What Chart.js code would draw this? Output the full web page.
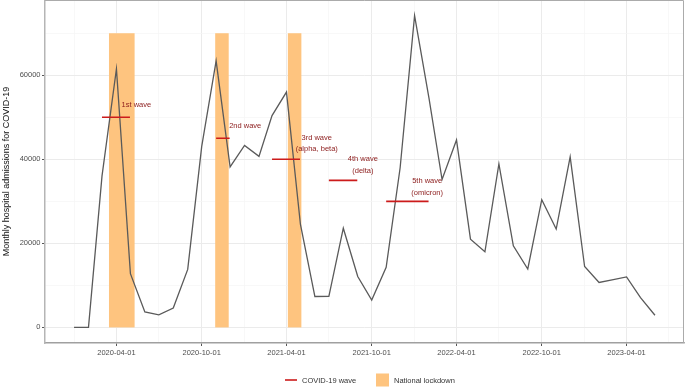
<!DOCTYPE html>
<html><head><meta charset="utf-8">
<script src="https://cdn.jsdelivr.net/npm/chart.js@4.4.1/dist/chart.umd.min.js"></script>
<style>html,body{margin:0;padding:0;background:#fff;}canvas{display:block;}</style>
</head><body>
<canvas id="c" width="685" height="387"></canvas>
<script>
// ---- data ----
const months = ['2020-01','2020-02','2020-03','2020-04','2020-05','2020-06','2020-07','2020-08','2020-09','2020-10','2020-11','2020-12',
'2021-01','2021-02','2021-03','2021-04','2021-05','2021-06','2021-07','2021-08','2021-09','2021-10','2021-11','2021-12',
'2022-01','2022-02','2022-03','2022-04','2022-05','2022-06','2022-07','2022-08','2022-09','2022-10','2022-11','2022-12',
'2023-01','2023-02','2023-03','2023-04','2023-05','2023-06'];
const admissions = [0,0,36000,61500,12800,3700,3000,4600,13800,43000,63400,38200,
43300,40700,50400,56000,24500,7350,7400,23600,12100,6500,14300,38000,
74200,54500,35200,44600,21000,18000,38900,19400,13900,30400,23400,40600,
14500,10700,11300,12000,7100,2900];
const lockdownStart = ['2020-03-16','2020-10-30','2021-04-04'];
const lockdownEnd   = ['2020-05-10','2020-11-28','2021-05-03'];
const lockdownTop = 70000;
const waveStart = ['2020-03-01','2020-11-01','2021-03-01','2021-07-01','2021-11-01'];
const waveEnd   = ['2020-04-30','2020-11-30','2021-04-30','2021-08-31','2022-01-31'];
const waveLevel = [50000,45000,40000,35000,30000];
const waveLabels = [['1st wave'],['2nd wave'],['3rd wave','(alpha, beta)'],['4th wave','(delta)'],['5th wave','(omicron)']];
const waveLabelDate = ['2020-04-12','2020-11-29','2021-06-05','2021-09-12','2022-01-28'];
const waveLabelValue = [53000,48000,43800,38700,33400];
const waveLabelAlign = ['left','left','center','center','center'];
const yTickValues = [0,10000,20000,30000,40000,50000,60000,70000];
const yTickLabels = ['0','','20000','','40000','','60000',''];
const xTickDates = ['2020-01-01','2020-04-01','2020-07-01','2020-10-01','2021-01-01','2021-04-01','2021-07-01','2021-10-01',
'2022-01-01','2022-04-01','2022-07-01','2022-10-01','2023-01-01','2023-04-01','2023-07-01'];
const xTickLabels = ['','2020-04-01','','2020-10-01','','2021-04-01','','2021-10-01','','2022-04-01','','2022-10-01','','2023-04-01',''];

// ---- helpers ----
const base = Date.UTC(2020,0,1);
function day(s){const p=s.split('-').map(Number);return (Date.UTC(p[0],p[1]-1,p[2]||1)-base)/86400000;}
const xTickDays = xTickDates.map(day);
const firstDay = day(months[0]+'-01'), lastDay = day(months[months.length-1]+'-01');
const pad = (lastDay-firstDay)*0.05;
const yMaxData = Math.max(...admissions), yPad = yMaxData*0.05;

const lineData = months.map((m,i)=>({x:day(m+'-01'),y:admissions[i]}));
const waveData = [];
waveStart.forEach((s,i)=>{waveData.push({x:day(s),y:waveLevel[i]},{x:day(waveEnd[i]),y:waveLevel[i]},{x:day(waveEnd[i]),y:null});});

const FONT = '"Liberation Sans", Arial, sans-serif';
Chart.defaults.font.family = FONT;
const BAND = '#FEC47F', WAVE = '#CC1B1B', LABEL = '#8B1A1A';

const deco = {
  id:'deco',
  beforeDatasetsDraw(chart){
    const {ctx, chartArea:a, scales:{x,y}} = chart;
    ctx.save();
    ctx.beginPath(); ctx.rect(a.left,a.top,a.right-a.left,a.bottom-a.top); ctx.clip();
    ctx.fillStyle = BAND;
    lockdownStart.forEach((s,i)=>{
      const x0=x.getPixelForValue(day(s)), x1=x.getPixelForValue(day(lockdownEnd[i]));
      const y0=y.getPixelForValue(0), y1=y.getPixelForValue(lockdownTop);
      ctx.fillRect(x0,y1,x1-x0,y0-y1);
    });
    ctx.restore();
  },
  afterDatasetsDraw(chart){
    const {ctx, scales:{x,y}} = chart;
    ctx.save();
    ctx.font = '7.5px '+FONT; ctx.fillStyle = LABEL; ctx.textBaseline='middle';
    const lh = 11.5;
    waveLabels.forEach((lines,i)=>{
      const px = x.getPixelForValue(day(waveLabelDate[i])), py = y.getPixelForValue(waveLabelValue[i]);
      ctx.textAlign = waveLabelAlign[i];
      lines.forEach((t,j)=>{ctx.fillText(t, px, py + (j-(lines.length-1)/2)*lh);});
    });
    ctx.restore();
  },
  afterDraw(chart){
    const {ctx, chartArea:a} = chart;
    ctx.save();
    ctx.strokeStyle='#ababab'; ctx.lineWidth=1;
    ctx.beginPath(); ctx.moveTo(a.left,a.top+0.5); ctx.lineTo(a.right-0.5,a.top+0.5); ctx.lineTo(a.right-0.5,a.bottom); ctx.stroke();
    // legend
    ctx.strokeStyle=WAVE; ctx.lineWidth=1.6;
    ctx.beginPath(); ctx.moveTo(285,380); ctx.lineTo(297,380); ctx.stroke();
    ctx.fillStyle=BAND; ctx.fillRect(376,373.5,13,13);
    ctx.fillStyle='#333'; ctx.font='7.5px '+FONT; ctx.textBaseline='middle'; ctx.textAlign='left';
    ctx.fillText('COVID-19 wave',302,380.5);
    ctx.fillText('National lockdown',394,380.5);
    ctx.restore();
  }
};

new Chart(document.getElementById('c'),{
  type:'line',
  data:{datasets:[
    {label:'wave',data:waveData,borderColor:WAVE,borderWidth:1.6,pointRadius:0,spanGaps:false,order:0},
    {label:'admissions',data:lineData,borderColor:'#5a5a5a',borderWidth:1.3,pointRadius:0,tension:0,order:1}
  ]},
  options:{
    responsive:false, animation:false, devicePixelRatio:1,
    layout:{padding:{top:0,right:1,left:0,bottom:0}},
    plugins:{legend:{display:false},tooltip:{enabled:false}},
    scales:{
      x:{type:'linear',min:firstDay-pad,max:lastDay+pad,
        afterBuildTicks(s){s.ticks = xTickDays.map(v=>({value:v}));},
        afterFit(s){s.height=44;s.paddingLeft=0;s.paddingRight=0;},
        ticks:{autoSkip:false,maxRotation:0,padding:2,color:'#4d4d4d',font:{size:7.5},
          callback:(v,i)=>xTickLabels[i]},
        grid:{color:c=>xTickLabels[c.index]?'#ebebeb':'#f5f5f5',lineWidth:c=>xTickLabels[c.index]?1:0.7,
          tickColor:c=>xTickLabels[c.index]?'#555':'rgba(0,0,0,0)',tickLength:3},
        border:{color:'#a0a0a0',width:1.5}
      },
      y:{type:'linear',min:-yPad,max:yMaxData+yPad,
        afterBuildTicks(s){s.ticks = yTickValues.map(v=>({value:v}));},
        afterFit(s){s.width=45;s.paddingTop=0;s.paddingBottom=0;},
        ticks:{padding:1.5,color:'#4d4d4d',font:{size:7.5},callback:(v,i)=>yTickLabels[i]},
        grid:{color:c=>yTickLabels[c.index]?'#ebebeb':'#f5f5f5',lineWidth:c=>yTickLabels[c.index]?1:0.7,
          tickColor:c=>yTickLabels[c.index]?'#555':'rgba(0,0,0,0)',tickLength:3},
        border:{color:'#b5b5b5',width:1.5},
        title:{display:true,text:'Monthly hospital admissions for COVID-19',color:'#111',font:{size:9},padding:{top:1,bottom:0}}
      }
    }
  },
  plugins:[deco]
});
</script>
</body></html>
